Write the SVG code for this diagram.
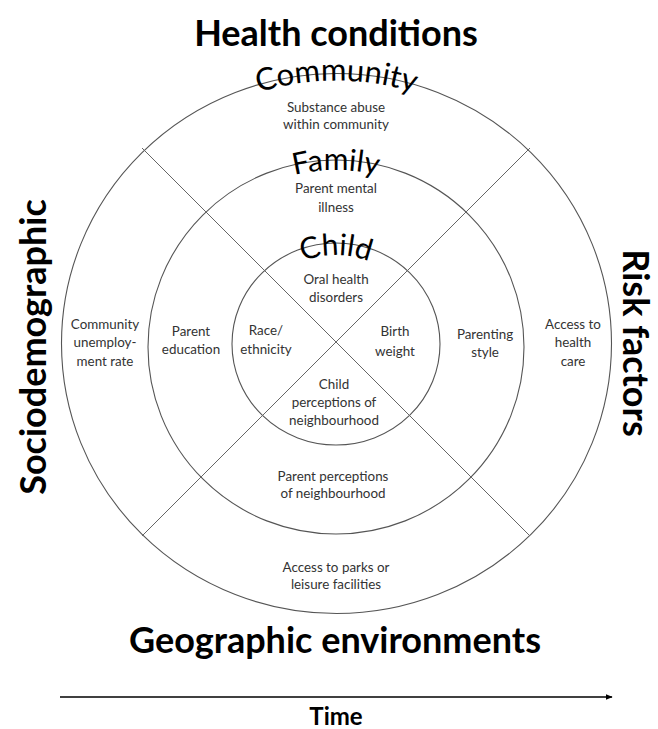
<svg xmlns="http://www.w3.org/2000/svg" width="658" height="729" viewBox="0 0 658 729">
<style>
.ring{fill:none;stroke:#555;stroke-width:1.1}
.div{stroke:#666;stroke-width:1}
.lbl{font-family:Lato,"Liberation Sans",sans-serif;font-size:13.4px;fill:#333;text-anchor:middle}
.title{font-family:Lato,"Liberation Sans",sans-serif;font-weight:bold;font-size:36px;fill:#000;text-anchor:middle}
.arc{font-family:Lato,"Liberation Sans",sans-serif;font-size:30px;fill:#000;text-anchor:middle}
</style>
<defs>
<path id="pComm" d="M 73.5,343.5 A 263 263 0 0 1 599.5,343.5"/>
<path id="pFam" d="M 159,347 A 177 177 0 0 1 513,347"/>
<path id="pChild" d="M 247,344 A 89 89 0 0 1 425,344"/>
<marker id="ah" viewBox="0 0 10 10" refX="9" refY="5" markerWidth="7" markerHeight="7" orient="auto" markerUnits="userSpaceOnUse"><path d="M0,1 L10,5 L0,9 Z" fill="#000"/></marker>
</defs>
<rect width="658" height="729" fill="#fff"/>
<g id="rings">
<ellipse class="ring" cx="336.5" cy="343.5" rx="275" ry="270"/>
<ellipse class="ring" cx="336" cy="347" rx="188" ry="187"/>
<ellipse class="ring" cx="336" cy="344" rx="104" ry="101"/>
</g>
<g id="connectors">
<line class="div" x1="142" y1="148" x2="530" y2="536"/>
<line class="div" x1="530" y1="148" x2="142" y2="536"/>
<line x1="60" y1="697" x2="612" y2="697" stroke="#000" stroke-width="1.3" marker-end="url(#ah)"/>
</g>
<g id="titles">
<text class="title" x="336" y="46">Health conditions</text>
<text class="title" x="335" y="653">Geographic environments</text>
<text class="title" transform="translate(46,347) rotate(-90)">Sociodemographic</text>
<text class="title" transform="translate(623,343) rotate(90)">Risk factors</text>
<text class="title" x="336" y="725" style="font-size:24px">Time</text>
</g>
<g id="level-labels">
<text class="arc" style="font-size:31px"><textPath href="#pComm" startOffset="50%">Community</textPath></text>
<text class="arc"><textPath href="#pFam" startOffset="50%">Family</textPath></text>
<text class="arc"><textPath href="#pChild" startOffset="50%">Child</textPath></text>
</g>
<g id="n-substance"><text class="lbl" x="336" y="112">Substance abuse</text><text class="lbl" x="336" y="129">within community</text></g>
<g id="n-parentmental"><text class="lbl" x="336" y="193">Parent mental</text><text class="lbl" x="336" y="212">illness</text></g>
<g id="n-oral"><text class="lbl" x="336" y="284">Oral health</text><text class="lbl" x="336" y="302">disorders</text></g>
<g id="n-race"><text class="lbl" x="266" y="335">Race/</text><text class="lbl" x="266" y="354">ethnicity</text></g>
<g id="n-birth"><text class="lbl" x="395" y="336">Birth</text><text class="lbl" x="395" y="356">weight</text></g>
<g id="n-childperc"><text class="lbl" x="334" y="389">Child</text><text class="lbl" x="334" y="407">perceptions of</text><text class="lbl" x="334" y="425">neighbourhood</text></g>
<g id="n-parentperc"><text class="lbl" x="333" y="481">Parent perceptions</text><text class="lbl" x="333" y="498">of neighbourhood</text></g>
<g id="n-parks"><text class="lbl" x="336" y="572">Access to parks or</text><text class="lbl" x="336" y="589">leisure facilities</text></g>
<g id="n-unemp"><text class="lbl" x="105" y="329">Community</text><text class="lbl" x="105" y="347">unemploy-</text><text class="lbl" x="105" y="366">ment rate</text></g>
<g id="n-parentedu"><text class="lbl" x="191" y="336">Parent</text><text class="lbl" x="191" y="354">education</text></g>
<g id="n-parenting"><text class="lbl" x="485" y="339">Parenting</text><text class="lbl" x="485" y="357">style</text></g>
<g id="n-access"><text class="lbl" x="573" y="329">Access to</text><text class="lbl" x="573" y="347">health</text><text class="lbl" x="573" y="366">care</text></g>
</svg>
